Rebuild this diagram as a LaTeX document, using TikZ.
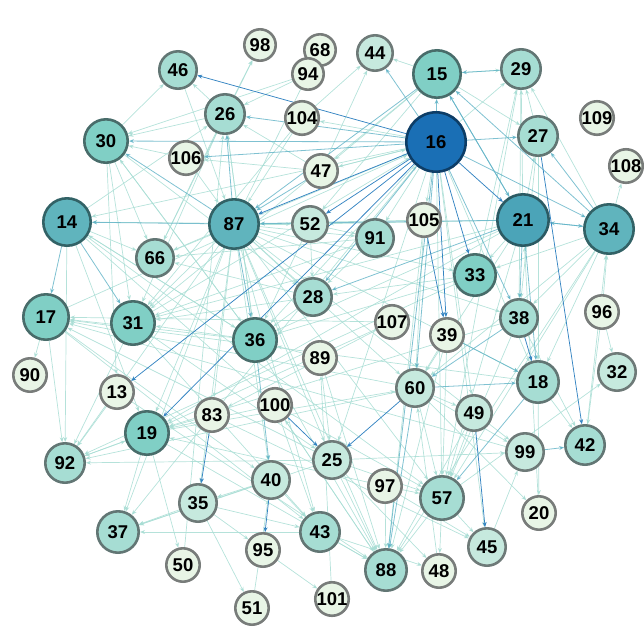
\documentclass[tikz,border=0pt]{standalone}
\usepackage{fontspec}
\setmainfont{Liberation Sans}
\usetikzlibrary{arrows.meta}
\pgfdeclarelayer{background}
\pgfsetlayers{background,main}
\definecolor{eL}{HTML}{A8DDD4}
\definecolor{eM}{HTML}{5FB2C6}
\definecolor{eD}{HTML}{3584C2}
\tikzset{
  nd/.style={circle,inner sep=0pt,line width=2.6pt,font=\bfseries\fontsize{18.5}{18.5}\selectfont},
  tA/.style={fill={rgb,255:red,26;green,111;blue,181},draw={rgb,255:red,13;green,61;blue,102}},
  tB/.style={fill={rgb,255:red,75;green,164;blue,184},draw={rgb,255:red,43;green,90;blue,99}},
  tC/.style={fill={rgb,255:red,96;green,180;blue,189},draw={rgb,255:red,50;green,98;blue,102}},
  tD/.style={fill={rgb,255:red,128;green,207;blue,197},draw={rgb,255:red,72;green,108;blue,106}},
  tE/.style={fill={rgb,255:red,166;green,221;blue,211},draw={rgb,255:red,98;green,118;blue,116}},
  tF/.style={fill={rgb,255:red,198;green,233;blue,222},draw={rgb,255:red,110;green,122;blue,120}},
  tG/.style={fill={rgb,255:red,232;green,245;blue,230},draw={rgb,255:red,120;green,124;blue,122}},
  el/.style={draw=eL,line width=0.7pt,opacity=0.85,-{Stealth[length=5pt,width=4pt]}},
  em/.style={draw=eM,line width=0.8pt,opacity=0.8,-{Stealth[length=5pt,width=4pt]}},
  ed/.style={draw=eD,line width=0.75pt,-{Stealth[length=5pt,width=4pt]}},
}
\begin{document}
\begin{tikzpicture}[x=1pt,y=-1pt]
\useasboundingbox (0,0) rectangle (644,630);
% nodes: name / x / y / radius / tier
\foreach \n/\x/\y/\r/\t in {
16/436/142/31/tA, 21/523/220/27/tB, 87/234/224/26/tC, 34/609/229/26/tC, 14/67/222/25/tC,
15/437/74/25/tD, 30/106/141/23/tD, 17/46/317/24/tD, 31/133/323/23/tD, 36/255/340/23/tD, 19/147/433/23/tD, 33/475/275/22/tD,
57/442/498/23/tE, 88/386/570/22/tE, 18/538/382/22/tE, 37/118/532/22/tE, 29/521/69/21/tE, 27/538/136/21/tE, 26/225/114/21/tE,
46/178/70/20/tE, 92/65/463/21/tE, 42/585/445/21/tE, 38/519/318/20/tE, 28/313/297/20/tE, 91/375/238/20/tE, 43/320/532/21/tE, 66/155/258/20/tE,
60/415/388/20/tF, 25/332/460/20/tF, 40/271/480/20/tF, 35/198/503/20/tF, 99/525/452/20/tF, 45/487/547/20/tF, 32/617/372/20/tF, 44/375/53/19/tF, 52/310/224/19/tF, 49/474/413/19/tF,
98/260/45/17/tG, 68/320/50/17/tG, 94/308/74/17/tG, 104/302/118/18/tG, 106/186/158/18/tG, 47/321/171/18/tG, 105/424/220/18/tG,
109/597/118/17/tG, 108/626/166/17/tG, 107/392/322/18/tG, 39/447/335/18/tG, 96/602/312/18/tG, 89/320/358/18/tG,
90/30/375/18/tG, 13/117/392/18/tG, 83/212/415/18/tG, 100/275/405/18/tG, 97/385/486/18/tG, 20/539/513/18/tG,
95/263/550/18/tG, 50/183/565/18/tG, 48/439/571/18/tG, 101/332/599/18/tG, 51/252/608/18/tG}
{
  \node[nd,\t,minimum size={2*\r-2.6}] (n\n) at (\x,\y) {\n};
}
\begin{pgfonlayer}{background}
% light edges
\foreach \a/\b in {
87/66,87/28,87/92,87/83,87/40,87/88,87/57,87/43,87/25,87/33,87/38,87/18,87/60,87/31,87/37,87/35,87/99,87/91,87/52,87/19,87/68,
16/29,16/57,16/47,16/91,16/104,16/105,16/18,16/25,16/49,16/45,16/36,16/14,
47/16,31/16,66/16,17/16,83/16,
21/27,21/33,21/57,21/60,21/29,21/52,21/36,21/31,21/19,
34/38,34/18,34/57,34/60,34/29,34/33,34/88,34/108,96/34,
15/29,15/44,15/27,15/52,15/31,15/47,
27/29,27/18,27/38,29/38,29/57,
14/19,14/92,14/66,14/36,14/57,14/100,
30/46,30/31,30/66,30/36,30/13,30/28,
26/46,26/30,26/98,26/66,26/31,26/36,
104/44,104/87,104/31,106/30,106/87,47/106,47/44,47/26,
52/28,52/91,52/36,52/14,91/28,91/31,91/66,
105/87,105/60,105/88,33/29,33/28,33/36,33/92,28/36,28/66,28/31,
36/31,36/17,36/14,36/30,36/26,36/88,
17/90,17/92,17/40,17/43,25/17,60/17,
31/92,31/43,31/25,13/92,13/88,19/92,92/19,19/50,19/37,19/88,19/60,
83/37,83/19,83/45,100/19,100/43,100/88,100/57,89/25,89/88,
60/49,60/99,60/57,60/92,60/20,39/57,39/88,39/60,38/42,38/57,38/19,
18/42,18/20,96/32,96/42,25/99,25/88,25/57,25/37,25/92,25/48,
40/35,40/43,40/37,43/37,43/88,43/48,97/88,97/57,97/45,97/19,
57/45,57/88,57/32,57/48,35/51,35/37,35/95,35/43,95/101,49/57,49/88,
107/19,107/83,66/98,94/30,94/26,46/87,14/26,89/36,107/17,99/17,
42/34,18/17,45/99,88/100,48/60,20/21,101/89,50/26,51/40}
{ \draw[el] (n\a) -- (n\b); }
% medium edges
\foreach \a/\b in {
87/14,87/26,87/30,87/36,16/15,16/27,16/34,16/38,16/60,16/88,16/26,16/28,16/30,16/106,
21/34,34/21,15/21,21/15,21/38,21/18,21/28,21/87,34/27,34/15,15/87,14/17,14/31,
47/87,36/40,60/88,60/18,39/18,38/60,18/57,99/42,16/44,29/15}
{ \draw[em] (n\a) -- (n\b); }
% dark edges
\foreach \a/\b in {
16/87,16/21,16/33,16/39,16/13,16/19,16/52,16/46,105/39,38/18,27/42,49/45,60/25,83/35,100/25,40/95}
{ \draw[ed] (n\a) -- (n\b); }
\end{pgfonlayer}
\end{tikzpicture}
\end{document}
